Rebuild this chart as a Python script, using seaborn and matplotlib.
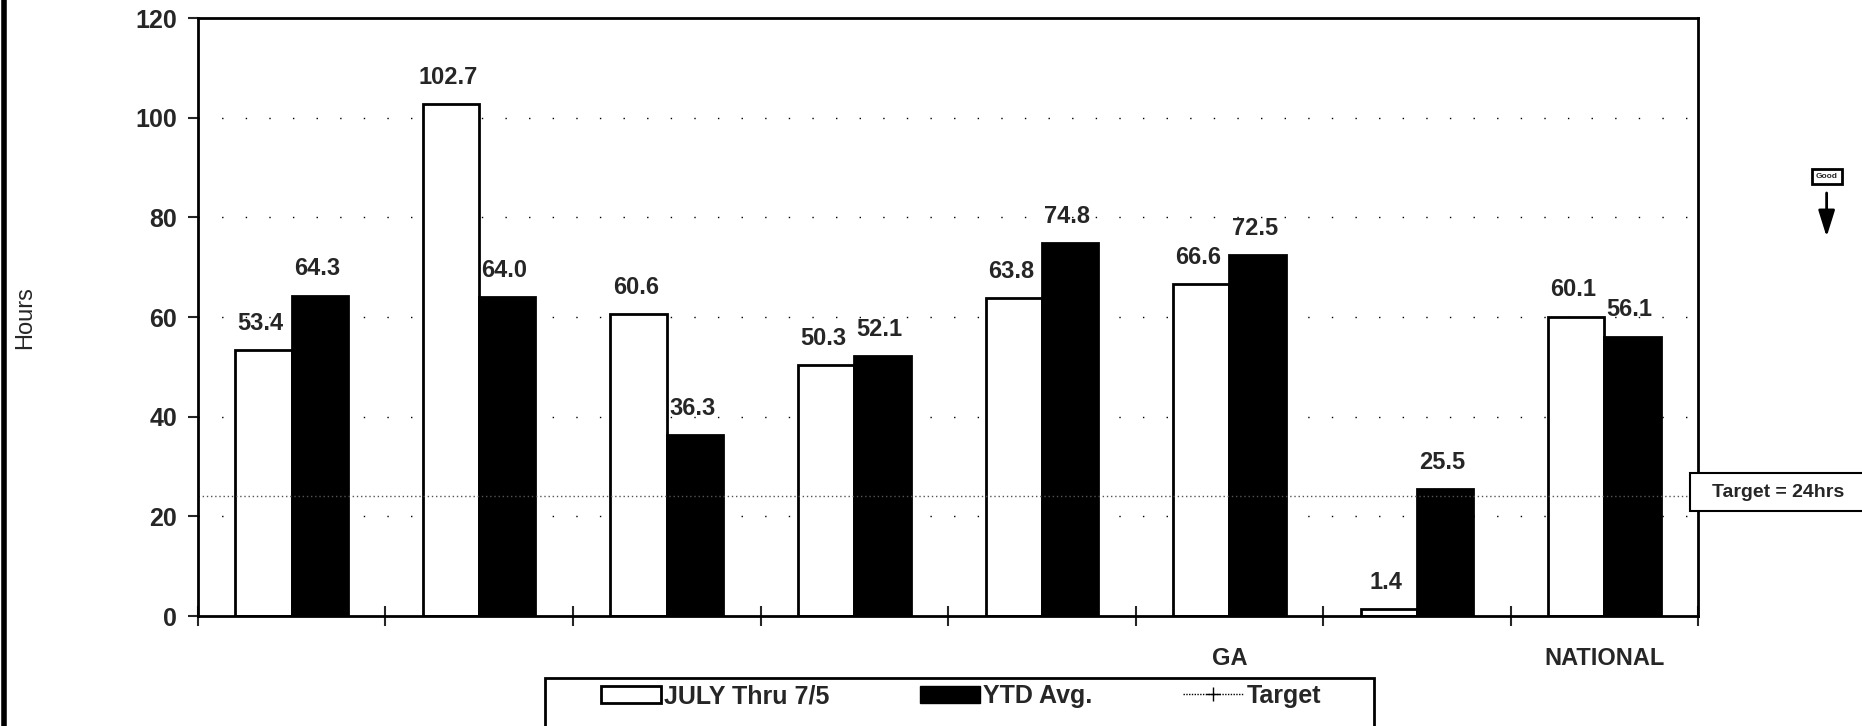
import matplotlib
matplotlib.use("Agg")
import matplotlib.pyplot as plt
import seaborn as sns
import pandas as pd
from matplotlib.patches import Patch, Rectangle
from matplotlib.lines import Line2D

# data
group_ids = [0, 1, 2, 3, 4, 5, 6, 7]
group_labels = ["", "", "", "", "", "GA", "", "NATIONAL"]
july = [53.4, 102.7, 60.6, 50.3, 63.8, 66.6, 1.4, 60.1]
ytd = [64.3, 64.0, 36.3, 52.1, 74.8, 72.5, 25.5, 56.1]
series_names = ["JULY Thru 7/5", "YTD Avg."]
target = 24
y_ticks = [0, 20, 40, 60, 80, 100, 120]

df = pd.DataFrame({
    "group": group_ids * 2,
    "series": [series_names[0]] * len(july) + [series_names[1]] * len(ytd),
    "hours": july + ytd,
})

sns.set_style("white")
plt.rcParams["font.family"] = ["Liberation Sans", "DejaVu Sans"]
plt.rcParams["font.weight"] = "bold"

fig = plt.figure(figsize=(18.62, 7.26), dpi=100)
ax = fig.add_axes([0.1063, 0.1515, 0.8057, 0.8235])

sns.barplot(data=df, x="group", y="hours", hue="series", order=group_ids,
            hue_order=series_names, palette=["white", "black"],
            edgecolor="black", linewidth=2, width=0.6, dodge=True,
            legend=False, ax=ax)

# value labels
for cont in ax.containers:
    for bar in cont:
        h = bar.get_height()
        ax.annotate(f"{h:.1f}", (bar.get_x() + bar.get_width() / 2, h),
                    xytext=(-2, 11), textcoords="offset points",
                    ha="center", va="bottom", fontsize=17, fontweight="bold")

# gridlines and target line
for v in y_ticks[1:-1]:
    ax.axhline(v, color="black", lw=1, ls=(0, (1, 16)), zorder=0)
ax.axhline(target, color="#555555", lw=1, ls=(0, (1, 2)), zorder=1)

ax.set_ylim(0, 120)
ax.set_xlim(-0.5, 7.5)
ax.set_yticks(y_ticks)
ax.tick_params(axis="y", left=True, direction="out", length=7, width=1.5,
               labelsize=18, pad=8)

ax.set_xticks([i - 0.5 for i in range(9)])
ax.set_xticklabels([])
ax.tick_params(axis="x", which="major", bottom=True, direction="inout",
               length=14, width=1.5)
ax.set_xticks(group_ids, minor=True)
ax.set_xticklabels(group_labels, minor=True, fontsize=17, fontweight="bold")
ax.tick_params(axis="x", which="minor", bottom=True, length=0, pad=22)
ax.set_xlabel("")
ax.set_ylabel("Hours", fontsize=17, fontweight="normal")
ax.yaxis.set_label_coords(-0.108, 0.5)

for s in ax.spines.values():
    s.set_visible(True)
    s.set_color("black")
    s.set_linewidth(2)

# legend: entries without frame, frame drawn as a box that runs off the page
handles = [
    Patch(facecolor="white", edgecolor="black", linewidth=2),
    Patch(facecolor="black", edgecolor="black"),
    Line2D([], [], color="black", lw=1, ls=(0, (1, 1)), marker="+", markersize=10),
]
fig.legend(handles, series_names + ["Target"], loc="center",
           bbox_to_anchor=(0.516, 0.041), ncol=3,
           prop={"size": 18, "weight": "bold"}, frameon=False,
           columnspacing=3.6, handlelength=2.4, handletextpad=0.15)
fig.add_artist(Rectangle((0.2927, -0.02), 0.4452, 0.086, transform=fig.transFigure,
                         facecolor="none", edgecolor="black", lw=2))

# target note box and "Good" arrow
fig.add_artist(Rectangle((0.9077, 0.296), 0.1, 0.052, transform=fig.transFigure,
                         facecolor="white", edgecolor="black", lw=1.5, zorder=3))
fig.text(0.955, 0.322, "Target = 24hrs", ha="center", va="center", fontsize=14,
         fontweight="bold", zorder=4)
fig.text(0.981, 0.757, "Good", ha="center", va="center", fontsize=6, fontweight="bold",
         bbox=dict(boxstyle="square,pad=0.5", facecolor="white", edgecolor="black", lw=2))
ax.annotate("", xy=(0.981, 0.67), xytext=(0.981, 0.738), xycoords="figure fraction",
            arrowprops=dict(arrowstyle="-|>,head_length=1.6,head_width=0.5",
                            color="black", lw=2))

# page edge on the left
fig.add_artist(Line2D([0.002, 0.002], [0, 1], color="black", lw=4))

fig.savefig("out.png", dpi=100, facecolor="white")
